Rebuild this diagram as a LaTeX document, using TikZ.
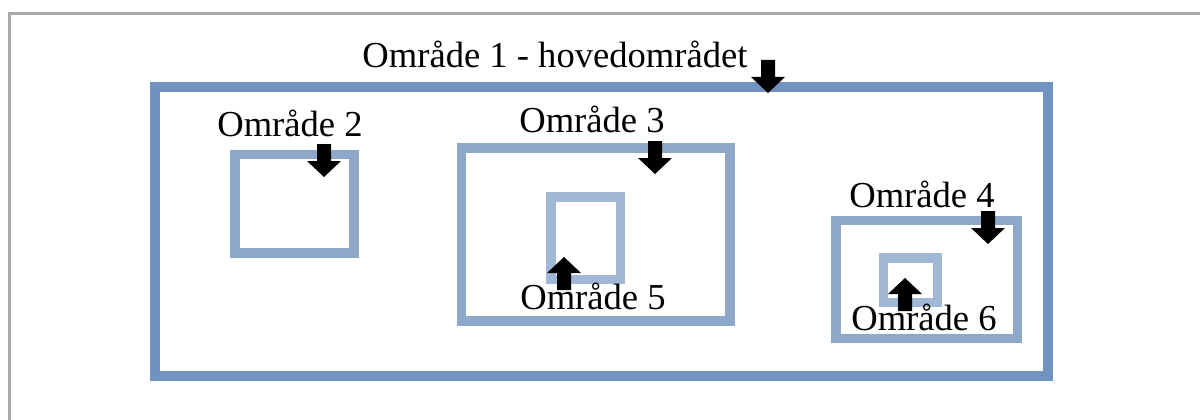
\documentclass[tikz,border=0pt]{standalone}
\usepackage{fontspec}
\setmainfont{Liberation Serif}
\definecolor{frame}{RGB}{170,170,170}
\definecolor{mainblue}{RGB}{112,146,191}
\definecolor{midblue}{RGB}{142,168,203}
\definecolor{paleblue}{RGB}{160,183,213}
\tikzset{
  regionbox/.style={line width=9.5pt, draw=#1},
  lbl/.style={anchor=base, inner sep=0pt, font=\fontsize{36.6}{40}\selectfont},
  pics/downarrow/.style={code={
    \fill[black] (0,0) -- (-17,-16) -- (-7,-16) -- (-7,-33) -- (7,-33)
      -- (7,-16) -- (17,-16) -- cycle;}},
  pics/uparrow/.style={code={
    \fill[black] (0,0) -- (-17,16) -- (-7,16) -- (-7,33) -- (7,33)
      -- (7,16) -- (17,16) -- cycle;}},
}
\begin{document}
\begin{tikzpicture}[x=1pt,y=-1pt]
\useasboundingbox (0,0) rectangle (1200,420);
\begin{scope}
  \clip (0,0) rectangle (1200,420);
  \draw[frame, line width=3pt] (9,14) rectangle (1215,435);
\end{scope}

% nested regions
\draw[regionbox=mainblue] (155,87) rectangle (1048,376);
\draw[regionbox=midblue] (235,154.5) rectangle (354,253);
\draw[regionbox=midblue] (461.5,148) rectangle (730,321);
\draw[regionbox=paleblue] (551,197) rectangle (620.5,279.5);
\draw[regionbox=midblue] (836,220.5) rectangle (1017.5,338.5);
\draw[regionbox=paleblue] (883.5,258) rectangle (937.5,302.5);

% labels
\node[lbl] (l1) at (555,67) {Område 1 - hovedområdet};
\node[lbl] (l2) at (290,136) {Område 2};
\node[lbl] (l3) at (592,132) {Område 3};
\node[lbl] (l4) at (922,207) {Område 4};
\node[lbl] (l5) at (593,309) {Område 5};
\node[lbl] (l6) at (924,330) {Område 6};

% block arrows pointing at each region border
\pic at (768,93) {downarrow};
\pic at (324,177) {downarrow};
\pic at (655,174) {downarrow};
\pic at (988,244) {downarrow};
\pic at (564,257) {uparrow};
\pic at (905,278) {uparrow};
\end{tikzpicture}
\end{document}
